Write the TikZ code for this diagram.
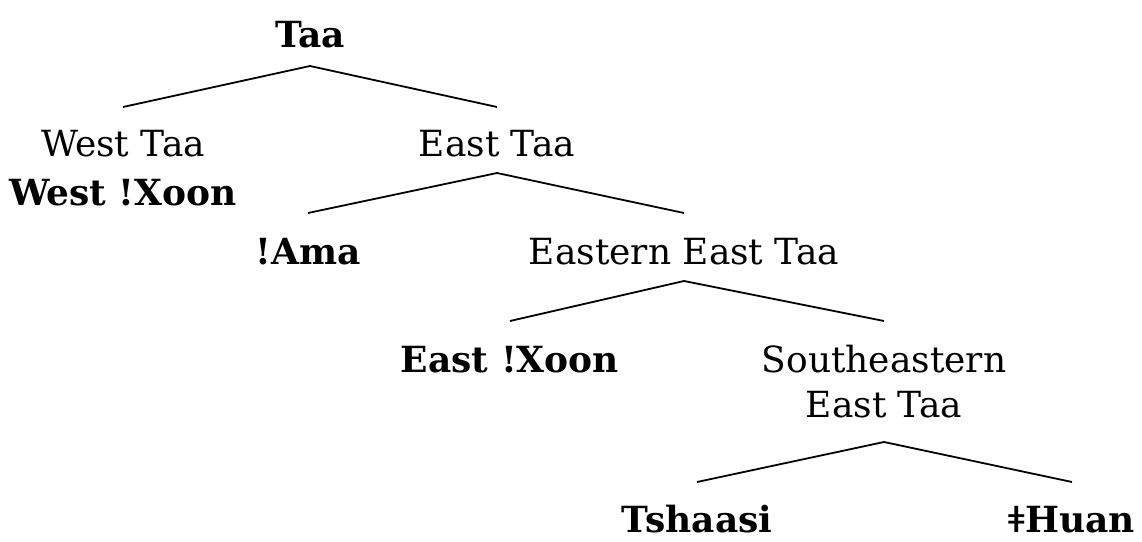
\documentclass[tikz,border=0pt]{standalone}
\usepackage{fontspec}
\setmainfont{DejaVu Serif}
\begin{document}
\begin{tikzpicture}[x=1pt,y=-1pt,
  lbl/.style={inner sep=0pt, anchor=base, align=center,
    font=\fontsize{36}{45}\selectfont},
  lng/.style={lbl, font=\fontsize{36}{45}\selectfont\bfseries},
  branch/.style={line width=1.8pt}]
\useasboundingbox (0,0) rectangle (1142,541);

% nodes, placed on the baseline of their last line
\node[lng] (taa)   at (310,47)  {Taa};
\node[lbl] (west)  at (123,205) {West Taa\\[4pt]\textbf{West !Xoon}};
\node[lbl] (east)  at (497,156) {East Taa};
\node[lng] (ama)   at (308,264) {!Ama};
\node[lbl] (eet)   at (684,264) {Eastern East Taa};
\node[lng] (exoon) at (510,372) {East !Xoon};
\node[lbl] (seet)  at (884,417) {Southeastern\\East Taa};
\node[lng] (tsh)   at (697,532) {Tshaasi};
\node[lng] (huan)  at (1072,532) {ǂHuan};

% branches
\draw[branch] ([yshift=98pt]west.base) -- ([yshift=-19pt]taa.base) -- ([yshift=49pt]east.base);
\draw[branch] ([yshift=51pt]ama.base) -- ([yshift=-17pt]east.base) -- ([yshift=51pt]eet.base);
\draw[branch] ([yshift=51pt]exoon.base) -- ([yshift=-17pt]eet.base) -- ([yshift=96pt]seet.base);
\draw[branch] ([yshift=50pt]tsh.base) -- ([yshift=-25pt]seet.base) -- ([yshift=50pt]huan.base);
\end{tikzpicture}
\end{document}
